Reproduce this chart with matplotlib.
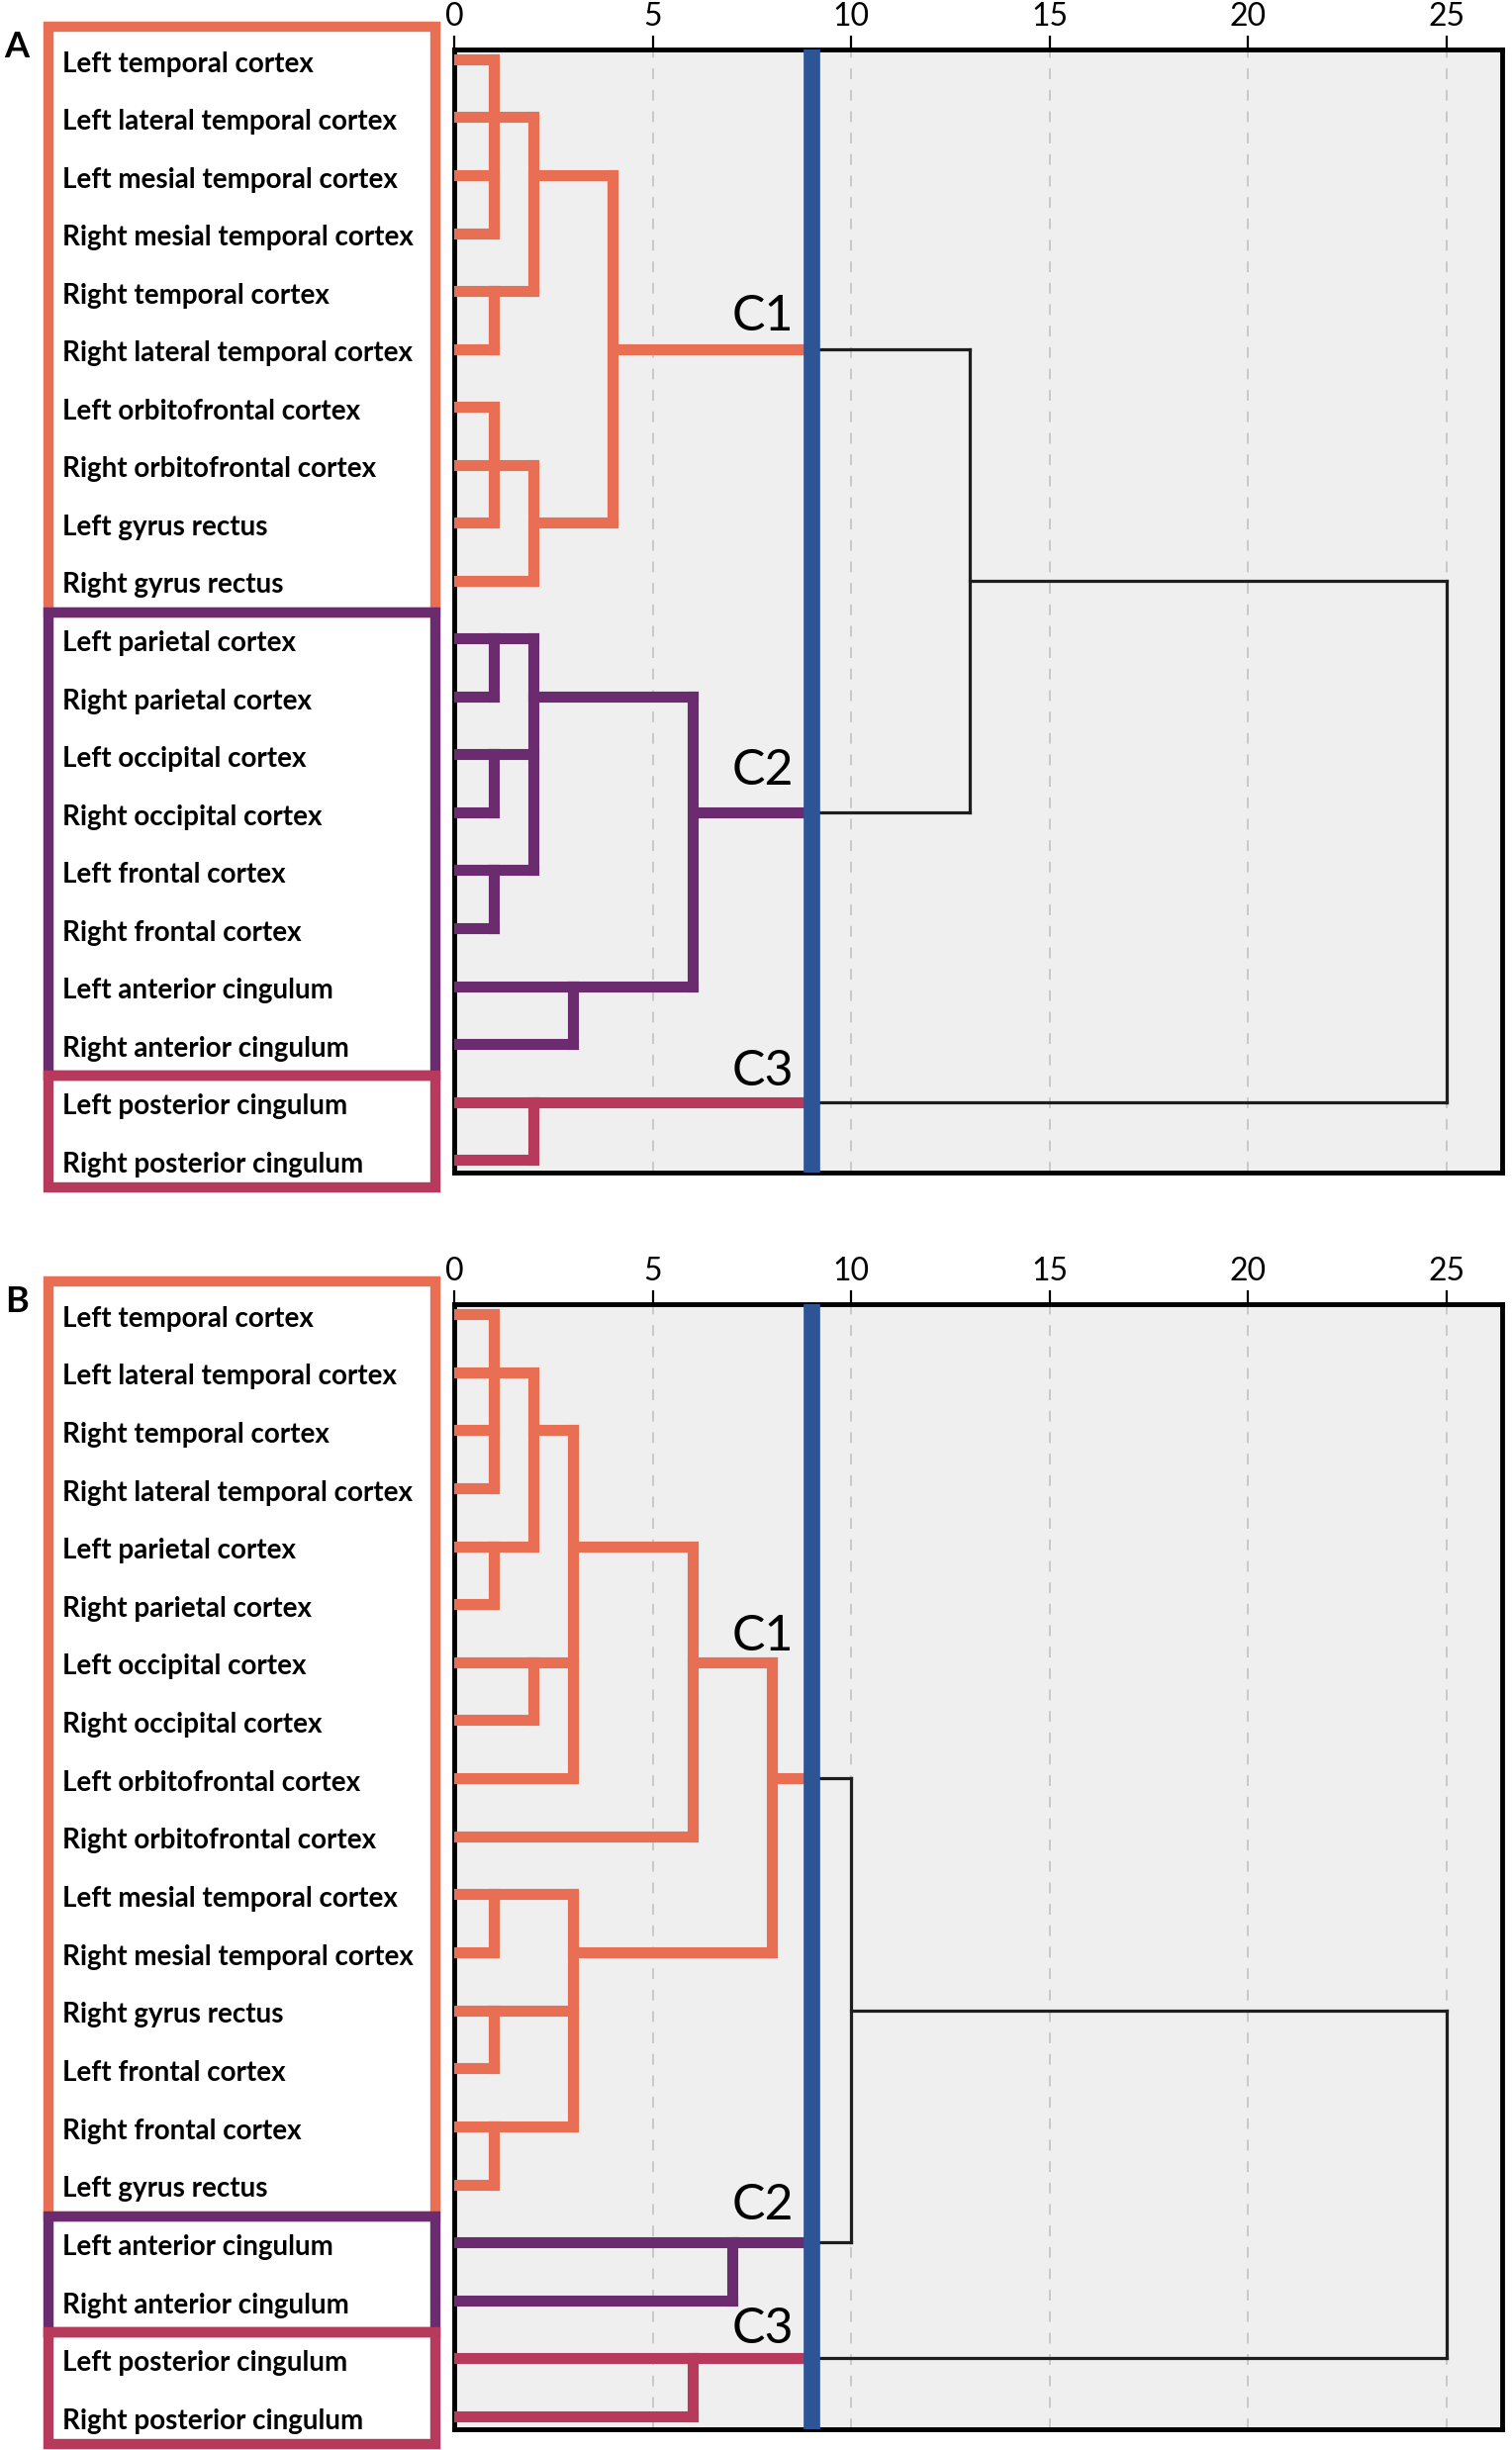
import matplotlib.pyplot as plt
from matplotlib.patches import Rectangle

plt.rcParams['font.family'] = ['Lato', 'DejaVu Sans']

# ---- data -------------------------------------------------------------
labels_a = [
    "Left temporal cortex", "Left lateral temporal cortex",
    "Left mesial temporal cortex", "Right mesial temporal cortex",
    "Right temporal cortex", "Right lateral temporal cortex",
    "Left orbitofrontal cortex", "Right orbitofrontal cortex",
    "Left gyrus rectus", "Right gyrus rectus",
    "Left parietal cortex", "Right parietal cortex",
    "Left occipital cortex", "Right occipital cortex",
    "Left frontal cortex", "Right frontal cortex",
    "Left anterior cingulum", "Right anterior cingulum",
    "Left posterior cingulum", "Right posterior cingulum",
]
cluster_sizes_a = [10, 8, 2]

labels_b = [
    "Left temporal cortex", "Left lateral temporal cortex",
    "Right temporal cortex", "Right lateral temporal cortex",
    "Left parietal cortex", "Right parietal cortex",
    "Left occipital cortex", "Right occipital cortex",
    "Left orbitofrontal cortex", "Right orbitofrontal cortex",
    "Left mesial temporal cortex", "Right mesial temporal cortex",
    "Right gyrus rectus", "Left frontal cortex",
    "Right frontal cortex", "Left gyrus rectus",
    "Left anterior cingulum", "Right anterior cingulum",
    "Left posterior cingulum", "Right posterior cingulum",
]
cluster_sizes_b = [16, 2, 2]

cluster_names = ["C1", "C2", "C3"]

# merges: (name, rescaled distance, children, row the merged branch leaves from)
# children are leaf rows (int) or names of earlier merges
merges_a = [
    ("a1", 1, [0, 1, 2, 3], 1),
    ("a2", 1, [4, 5], 4),
    ("a3", 2, ["a1", "a2"], 2),
    ("a4", 1, [6, 7, 8], 7),
    ("a5", 2, ["a4", 9], 8),
    ("c1", 4, ["a3", "a5"], 5),
    ("b1", 1, [10, 11], 10),
    ("b2", 1, [12, 13], 12),
    ("b3", 1, [14, 15], 14),
    ("b4", 2, ["b1", "b2", "b3"], 11),
    ("b5", 3, [16, 17], 16),
    ("c2", 6, ["b4", "b5"], 13),
    ("c3", 2, [18, 19], 18),
    ("k1", 13, ["c1", "c2"], 9),
    ("k2", 25, ["k1", "c3"], None),
]

merges_b = [
    ("a1", 1, [0, 1, 2, 3], 1),
    ("a2", 1, [4, 5], 4),
    ("a3", 2, ["a1", "a2"], 2),
    ("a4", 2, [6, 7], 6),
    ("a5", 3, ["a3", "a4", 8], 4),
    ("a6", 6, ["a5", 9], 6),
    ("a7", 1, [10, 11], 10),
    ("a8", 1, [12, 13], 12),
    ("a9", 1, [14, 15], 14),
    ("a10", 3, ["a7", "a8", "a9"], 11),
    ("c1", 8, ["a6", "a10"], 8),
    ("c2", 7, [16, 17], 16),
    ("c3", 6, [18, 19], 18),
    ("k1", 10, ["c1", "c2"], 12),
    ("k2", 25, ["k1", "c3"], None),
]

cut_height = 9

# baseline rows of the C1..C3 tags
tag_rows_a = [4.69, 12.53, 17.71]
tag_rows_b = [5.8, 15.6, 17.74]

cluster_colors = ["#E86F53", "#6A2C6E", "#B73A5D"]
cut_color = "#2D5595"
bg_color = "#EFEFEF"

W, H = 1528, 2476
fig = plt.figure(figsize=(W / 100, H / 100), dpi=100)


def draw_panel(letter, labels, sizes, merges, tag_rows, top_px, bottom_px):
    n = len(labels)
    # cluster index for each leaf row
    groups = []
    for i, s in enumerate(sizes):
        groups += [i] * s

    ylim = (n - 1 + 0.22, -0.17)
    ax = fig.add_axes([459 / W, 1 - bottom_px / H, 1059 / W, (bottom_px - top_px) / H])
    ax.set_facecolor(bg_color)
    ax.set_xlim(0, 26.4)
    ax.set_ylim(*ylim)
    ax.xaxis.tick_top()
    ax.set_xticks([0, 5, 10, 15, 20, 25])
    ax.set_yticks([])
    ax.tick_params(axis='x', direction='out', length=10, width=1.6,
                   labelsize=23, pad=3)
    for sp in ax.spines.values():
        sp.set_linewidth(3.5)
        sp.set_color("black")
    ax.set_axisbelow(True)
    ax.grid(axis='x', color="#c6c6c6", linestyle=(0, (6, 6)), linewidth=1.3)

    nodes = {}
    for name, h, children, out_row in merges:
        leaves = []
        kids = []
        for c in children:
            if isinstance(c, str):
                ch, crow, cleaves, ccol = nodes[c]
                kids.append((crow, ch, ccol))
                leaves += cleaves
            else:
                kids.append((c, 0, cluster_colors[groups[c]]))
                leaves.append(c)
        gset = set(groups[l] for l in leaves)
        color = cluster_colors[gset.pop()] if len(gset) == 1 else None

        for crow, ch, ccol in kids:
            if color is None:
                if ccol is not None:
                    ax.plot([ch, cut_height], [crow, crow], color=ccol, lw=8,
                            solid_capstyle='butt', zorder=3)
                    ax.plot([cut_height, h], [crow, crow], color="#1e1e1e",
                            lw=2.3, solid_capstyle='projecting', zorder=2)
                else:
                    ax.plot([ch, h], [crow, crow], color="#1e1e1e", lw=2.3,
                            solid_capstyle='projecting', zorder=2)
            else:
                ax.plot([ch, h], [crow, crow], color=color, lw=8,
                        solid_capstyle='projecting', zorder=3)
        rows = [k[0] for k in kids]
        if color is None:
            ax.plot([h, h], [min(rows), max(rows)], color="#1e1e1e", lw=2.3,
                    solid_capstyle='projecting', zorder=2)
        else:
            ax.plot([h, h], [min(rows), max(rows)], color=color, lw=8,
                    solid_capstyle='projecting', zorder=3)
        nodes[name] = (h, out_row, leaves, color)

    ax.axvline(cut_height, color=cut_color, lw=12, zorder=4)

    for tag, r in zip(cluster_names, tag_rows):
        ax.text(8.55, r, tag, ha='right', va='baseline', fontsize=36, zorder=5)

    # label column with coloured boxes
    lab = fig.add_axes([0, 1 - bottom_px / H, 459 / W, (bottom_px - top_px) / H])
    lab.set_xlim(0, 459)
    lab.set_ylim(*ylim)
    lab.axis('off')
    start = 0
    for i, s in enumerate(sizes):
        top = -0.57 if i == 0 else start - 0.45
        bot = n - 1 + 0.47 if i == len(sizes) - 1 else start + s - 0.45
        lab.add_patch(Rectangle((49, top), 391, bot - top, fill=False,
                                edgecolor=cluster_colors[i], lw=7.5,
                                clip_on=False, zorder=2 + i))
        start += s
    for i, t in enumerate(labels):
        lab.text(63, i + 0.08, t, ha='left', va='center', fontsize=20,
                 fontweight='bold', zorder=10)

    fig.text(17 / W, 1 - (top_px - 3) / H, letter, ha='center', va='center',
             fontsize=26, fontweight='bold')


draw_panel("A", labels_a, cluster_sizes_a, merges_a, tag_rows_a, 50, 1185)
draw_panel("B", labels_b, cluster_sizes_b, merges_b, tag_rows_b, 1318, 2455)

plt.savefig("out.png", dpi=100)
